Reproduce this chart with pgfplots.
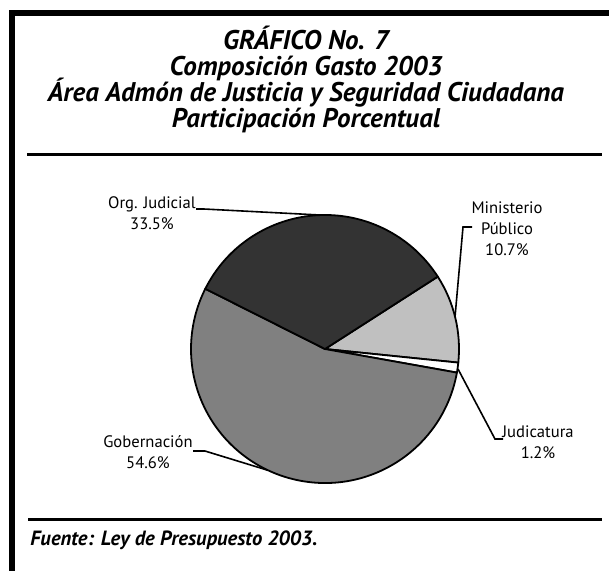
\documentclass[border=0pt]{standalone}
\usepackage{fontspec}
\setmainfont{PT Sans}
\usepackage{pgfplots}
\pgfplotsset{compat=1.18}

\definecolor{cOrg}{HTML}{333333}
\definecolor{cMin}{HTML}{C0C0C0}
\definecolor{cGob}{HTML}{808080}

\begin{document}
\begin{tikzpicture}
% shares in percent, clockwise from the Org/Min border
\def\pMin{10.7}
\def\pJud{1.2}
\def\pGob{54.6}
\def\pOrg{33.5}
\pgfmathsetmacro\aA{32.7}
\pgfmathsetmacro\aB{\aA-3.6*\pMin}
\pgfmathsetmacro\aC{\aB-3.6*\pJud}
\pgfmathsetmacro\aD{\aC-3.6*\pGob}
\pgfmathsetmacro\aE{\aD-3.6*\pOrg}
\def\R{67pt}
\begin{axis}[
  scale only axis, width=304.5pt, height=285pt,
  xmin=0, xmax=609, ymin=0, ymax=570, y dir=reverse,
  hide axis, clip=false,
]
% frame and rules
\draw[line width=3pt] (axis cs:12,572) -- (axis cs:12,13) -- (axis cs:612,13);
\draw[line width=1.8pt] (axis cs:27,154.5) -- (axis cs:602,154.5);
\draw[line width=1.8pt] (axis cs:28,519.5) -- (axis cs:602,519.5);
% titles
\node[anchor=base, font=\fontsize{13.5}{15}\selectfont\bfseries\itshape] at (axis cs:306,49) {GRÁFICO No. 7};
\node[anchor=base, font=\fontsize{13.5}{15}\selectfont\bfseries\itshape] at (axis cs:306,75) {Composición Gasto 2003};
\node[anchor=base, font=\fontsize{13.5}{15}\selectfont\bfseries\itshape] at (axis cs:306,101) {Área Admón de Justicia y Seguridad Ciudadana};
\node[anchor=base, font=\fontsize{13.5}{15}\selectfont\bfseries\itshape] at (axis cs:306,127) {Participación Porcentual};
\node[anchor=base west, inner sep=0pt, font=\fontsize{10.3}{12}\selectfont\bfseries\itshape] at (axis cs:30,545) {Fuente: Ley de Presupuesto 2003.};
% slices
\filldraw[fill=cMin, line width=0.9pt, line join=round] (axis cs:325,349) -- ++(\aA:\R) arc[start angle=\aA, end angle=\aB, radius=\R] -- cycle;
\filldraw[fill=white, line width=0.9pt, line join=round] (axis cs:325,349) -- ++(\aB:\R) arc[start angle=\aB, end angle=\aC, radius=\R] -- cycle;
\filldraw[fill=cGob, line width=0.9pt, line join=round] (axis cs:325,349) -- ++(\aC:\R) arc[start angle=\aC, end angle=\aD, radius=\R] -- cycle;
\filldraw[fill=cOrg, line width=0.9pt, line join=round] (axis cs:325,349) -- ++(\aD:\R) arc[start angle=\aD, end angle=\aE, radius=\R] -- cycle;
% leader lines
\draw[line width=0.8pt] (axis cs:196,209) -- (axis cs:204,209) -- (axis cs:320,215);
\draw[line width=0.8pt] (axis cs:472,227) -- (axis cs:463,227) -- (axis cs:455,317);
\draw[line width=0.8pt] (axis cs:503,439) -- (axis cs:495,439) -- (axis cs:458,369);
\draw[line width=0.8pt] (axis cs:193,451) -- (axis cs:205,451) -- (axis cs:267,470);
% labels (anchor base = baseline of the last line)
\node[anchor=base, align=center, inner sep=0pt, font=\fontsize{8.3}{10.5}\selectfont] at (axis cs:152,229) {Org. Judicial\\33.5\%};
\node[anchor=base, align=center, inner sep=0pt, font=\fontsize{8.3}{10.5}\selectfont] at (axis cs:507,255) {Ministerio\\Público\\10.7\%};
\node[anchor=base, align=center, inner sep=0pt, font=\fontsize{8.3}{10.5}\selectfont] at (axis cs:538,458) {Judicatura\\1.2\%};
\node[anchor=base, align=center, inner sep=0pt, font=\fontsize{8.3}{10.5}\selectfont] at (axis cs:148,468) {Gobernación\\54.6\%};
\end{axis}
\pgfresetboundingbox
\path (current axis.south west) rectangle (current axis.north east);
\end{tikzpicture}
\end{document}
